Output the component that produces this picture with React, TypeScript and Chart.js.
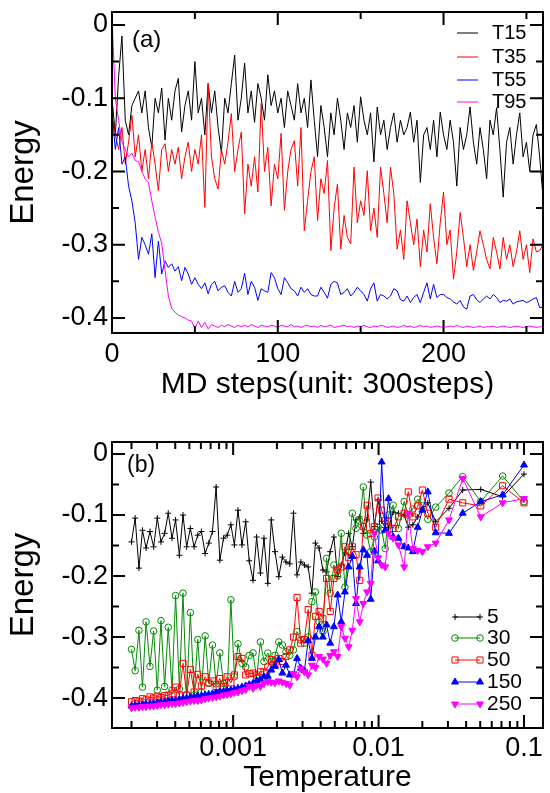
import React, { useEffect, useRef } from "react";
import { Chart, registerables } from "chart.js";

Chart.register(...registerables);

const FONT = "'Liberation Sans', Arial, Helvetica, sans-serif";
Chart.defaults.font.family = FONT;
Chart.defaults.color = "#000";

// ---------------- Panel (a): energy vs MD steps ----------------
const MD_STEP = 2; // one sample every 2 units
const T15 = [
  -0.10, -0.15, -0.07, -0.015, -0.13, -0.15, -0.11, -0.10, -0.09, -0.12,
  -0.09, -0.14, -0.167, -0.10, -0.12, -0.086, -0.157, -0.10, -0.13, -0.09,
  -0.073, -0.146, -0.11, -0.09, -0.13, -0.05, -0.12, -0.10, -0.15, -0.08,
  -0.12, -0.09, -0.14, -0.175, -0.10, -0.12, -0.08, -0.041, -0.13, -0.10,
  -0.052, -0.12, -0.09, -0.133, -0.08, -0.10, -0.13, -0.068, -0.11, -0.09,
  -0.12, -0.10, -0.14, -0.09, -0.11, -0.13, -0.08, -0.12, -0.10, -0.14,
  -0.075, -0.13, -0.18, -0.11, -0.14, -0.18, -0.12, -0.15, -0.10, -0.13,
  -0.17, -0.12, -0.14, -0.11, -0.16, -0.098, -0.13, -0.15, -0.12, -0.187,
  -0.112, -0.15, -0.13, -0.17, -0.14, -0.12, -0.16, -0.13, -0.15, -0.14,
  -0.119, -0.16, -0.13, -0.215, -0.15, -0.14, -0.17, -0.13, -0.18, -0.119,
  -0.15, -0.17, -0.13, -0.16, -0.22, -0.14, -0.17, -0.15, -0.112, -0.16,
  -0.19, -0.14, -0.17, -0.21, -0.13, -0.15, -0.113, -0.17, -0.235, -0.16,
  -0.14, -0.19, -0.15, -0.12, -0.18, -0.16, -0.20, -0.15, -0.136, -0.18,
  -0.235,
];
const T35 = [
  -0.12, -0.15, -0.17, -0.14, -0.19, -0.16, -0.123, -0.18, -0.15, -0.20,
  -0.17, -0.21, -0.16, -0.19, -0.226, -0.17, -0.162, -0.20, -0.17, -0.19,
  -0.167, -0.21, -0.18, -0.16, -0.20, -0.17, -0.19, -0.15, -0.249, -0.08,
  -0.18, -0.21, -0.224, -0.17, -0.19, -0.16, -0.121, -0.20, -0.17, -0.146,
  -0.258, -0.19, -0.22, -0.18, -0.228, -0.107, -0.20, -0.167, -0.247, -0.19,
  -0.21, -0.148, -0.253, -0.20, -0.17, -0.158, -0.22, -0.14, -0.281, -0.24,
  -0.20, -0.18, -0.267, -0.21, -0.23, -0.185, -0.308, -0.25, -0.217, -0.306,
  -0.26, -0.29, -0.299, -0.194, -0.27, -0.24, -0.26, -0.199, -0.281, -0.25,
  -0.29, -0.194, -0.23, -0.27, -0.194, -0.23, -0.306, -0.28, -0.32, -0.24,
  -0.27, -0.30, -0.265, -0.33, -0.28, -0.31, -0.244, -0.29, -0.326, -0.27,
  -0.228, -0.30, -0.28, -0.347, -0.31, -0.256, -0.29, -0.33, -0.30, -0.335,
  -0.31, -0.281, -0.30, -0.32, -0.333, -0.29, -0.31, -0.333, -0.29, -0.32,
  -0.30, -0.33, -0.31, -0.281, -0.32, -0.30, -0.338, -0.292, -0.31, -0.308,
  -0.30,
];
const T55 = [
  -0.116, -0.17, -0.14, -0.19, -0.18, -0.22, -0.24, -0.27, -0.32, -0.29,
  -0.30, -0.313, -0.285, -0.345, -0.295, -0.34, -0.322, -0.331, -0.326, -0.336,
  -0.33, -0.349, -0.331, -0.34, -0.354, -0.345, -0.354, -0.36, -0.352, -0.367,
  -0.354, -0.35, -0.363, -0.358, -0.356, -0.365, -0.37, -0.35, -0.365, -0.36,
  -0.339, -0.368, -0.35, -0.358, -0.376, -0.36, -0.363, -0.365, -0.338, -0.345,
  -0.36, -0.368, -0.345, -0.352, -0.36, -0.363, -0.37, -0.358, -0.365, -0.36,
  -0.368, -0.37, -0.37, -0.358, -0.365, -0.373, -0.354, -0.35, -0.352, -0.368,
  -0.365, -0.36, -0.37, -0.365, -0.358, -0.363, -0.368, -0.377, -0.36, -0.352,
  -0.377, -0.368, -0.37, -0.374, -0.37, -0.36, -0.363, -0.375, -0.377, -0.37,
  -0.379, -0.372, -0.368, -0.379, -0.365, -0.352, -0.374, -0.354, -0.372, -0.368,
  -0.368, -0.372, -0.374, -0.378, -0.381, -0.376, -0.385, -0.388, -0.37, -0.368,
  -0.375, -0.379, -0.374, -0.37, -0.374, -0.368, -0.372, -0.379, -0.376, -0.377,
  -0.374, -0.381, -0.378, -0.377, -0.376, -0.379, -0.377, -0.374, -0.372, -0.386,
  -0.385,
];
const T95 = [
  0.01, -0.10, -0.13, -0.16, -0.17, -0.18, -0.175, -0.185, -0.187, -0.20,
  -0.21, -0.215, -0.24, -0.262, -0.283, -0.298, -0.335, -0.37, -0.387, -0.392,
  -0.396, -0.398, -0.40, -0.403, -0.404, -0.415, -0.404, -0.413, -0.406, -0.415,
  -0.409, -0.411, -0.413, -0.41, -0.412, -0.409, -0.411, -0.413, -0.41, -0.412,
  -0.41, -0.412, -0.409, -0.411, -0.413, -0.41, -0.411, -0.412, -0.41, -0.411,
  -0.413, -0.41, -0.411, -0.412, -0.409, -0.412, -0.411, -0.413, -0.411, -0.41,
  -0.412, -0.411, -0.413, -0.41, -0.412, -0.411, -0.41, -0.413, -0.412, -0.411,
  -0.41, -0.412, -0.411, -0.413, -0.411, -0.412, -0.41, -0.412, -0.413, -0.411,
  -0.412, -0.41, -0.411, -0.413, -0.412, -0.411, -0.413, -0.412, -0.41, -0.412,
  -0.411, -0.413, -0.412, -0.41, -0.412, -0.411, -0.413, -0.412, -0.411, -0.412,
  -0.413, -0.412, -0.411, -0.412, -0.41, -0.412, -0.413, -0.411, -0.412, -0.413,
  -0.412, -0.411, -0.413, -0.412, -0.412, -0.411, -0.413, -0.412, -0.411, -0.412,
  -0.413, -0.412, -0.411, -0.412, -0.413, -0.412, -0.411, -0.412, -0.413, -0.412,
  -0.412,
];
const A_LABELS = ["T15", "T35", "T55", "T95"];
const A_COLORS = ["#000000", "#ff0000", "#0000ff", "#ff00ff"];
const A_X_TICKS = [0, 100, 200];
const A_X_MINOR = [50, 150, 250];
const Y_TICKS = [-0.4, -0.3, -0.2, -0.1, 0];
const Y_MINOR = [-0.35, -0.25, -0.15, -0.05];

// ---------------- Panel (b): energy vs temperature ----------------
const TEMPS = [
  0.0002, 0.000212, 0.000225, 0.000238, 0.000252, 0.000268, 0.000284, 0.000301, 0.000319, 0.000338,
  0.000358, 0.00038, 0.000402, 0.000427, 0.000452, 0.000479, 0.000508, 0.000539, 0.000571, 0.000605,
  0.000642, 0.00068, 0.000721, 0.000764, 0.00081, 0.000859, 0.00091, 0.000965, 0.00102, 0.00108,
  0.00115, 0.00122, 0.00129, 0.00137, 0.00145, 0.00154, 0.00163, 0.00173, 0.00183, 0.00194,
  0.00206, 0.00218, 0.00231, 0.00245, 0.0026, 0.00275, 0.00292, 0.00309, 0.00328, 0.00348,
  0.00368, 0.0039, 0.00414, 0.00439, 0.00465, 0.00493, 0.00523, 0.00554, 0.00587, 0.00623,
  0.0066, 0.007, 0.00742, 0.00786, 0.00833, 0.00883, 0.00936, 0.00992,
  0.0105, 0.0111, 0.0117, 0.0126, 0.0137, 0.015, 0.016, 0.0172, 0.0186, 0.02,
  0.0218, 0.0247, 0.0305, 0.0379, 0.0504, 0.0713, 0.1,
];
const E5 = [
  -0.144, -0.105, -0.187, -0.125, -0.154, -0.127, -0.152, -0.105, -0.144, -0.13,
  -0.097, -0.138, -0.108, -0.166, -0.1, -0.152, -0.122, -0.152, -0.133, -0.127,
  -0.163, -0.146, -0.127, -0.054, -0.174, -0.138, -0.133, -0.116, -0.149, -0.092,
  -0.149, -0.111, -0.175, -0.207, -0.136, -0.195, -0.138, -0.212, -0.108, -0.16,
  -0.201, -0.169, -0.177, -0.18, -0.097, -0.198, -0.177, -0.182, -0.185, -0.228,
  -0.146, -0.154, -0.19, -0.193, -0.16, -0.136, -0.201, -0.182, -0.162, -0.13,
  -0.152, -0.108, -0.103, -0.13, -0.108, -0.046, -0.119, -0.075,
  -0.11, -0.12, -0.121, -0.095, -0.097, -0.1, -0.12, -0.116, -0.103, -0.09,
  -0.08, -0.111, -0.089, -0.059, -0.058, -0.07, -0.033,
];
const E30 = [
  -0.32, -0.355, -0.289, -0.382, -0.275, -0.348, -0.29, -0.387, -0.273, -0.381,
  -0.284, -0.387, -0.232, -0.385, -0.228, -0.395, -0.26, -0.395, -0.304, -0.39,
  -0.298, -0.376, -0.313, -0.377, -0.326, -0.376, -0.39, -0.239, -0.365, -0.311,
  -0.343, -0.349, -0.33, -0.326, -0.367, -0.308, -0.34, -0.326, -0.34, -0.33,
  -0.308, -0.313, -0.324, -0.33, -0.321, -0.291, -0.305, -0.31, -0.3, -0.242,
  -0.226, -0.275, -0.291, -0.171, -0.228, -0.182, -0.2, -0.13, -0.218, -0.16,
  -0.097, -0.122, -0.11, -0.054, -0.133, -0.16, -0.136, -0.12,
  -0.125, -0.155, -0.1, -0.084, -0.122, -0.078, -0.1, -0.09, -0.074, -0.085,
  -0.107, -0.087, -0.064, -0.037, -0.078, -0.036, -0.078,
];
const E50 = [
  -0.406, -0.404, -0.405, -0.401, -0.403, -0.398, -0.4, -0.397, -0.399, -0.396,
  -0.395, -0.393, -0.382, -0.395, -0.343, -0.395, -0.353, -0.39, -0.361, -0.38,
  -0.365, -0.375, -0.372, -0.381, -0.368, -0.381, -0.365, -0.375, -0.362, -0.332,
  -0.335, -0.362, -0.36, -0.359, -0.362, -0.357, -0.357, -0.349, -0.337, -0.345,
  -0.335, -0.34, -0.332, -0.321, -0.3, -0.235, -0.31, -0.304, -0.255, -0.33,
  -0.266, -0.258, -0.27, -0.204, -0.258, -0.204, -0.19, -0.185, -0.152, -0.17,
  -0.152, -0.165, -0.207, -0.119, -0.084, -0.13, -0.119, -0.072,
  -0.092, -0.109, -0.11, -0.122, -0.103, -0.097, -0.062, -0.103, -0.085, -0.059,
  -0.097, -0.12, -0.074, -0.08, -0.085, -0.052, -0.08,
];
const E150 = [
  -0.413, -0.412, -0.412, -0.411, -0.41, -0.41, -0.409, -0.408, -0.407, -0.406,
  -0.405, -0.404, -0.404, -0.402, -0.401, -0.4, -0.399, -0.398, -0.397, -0.396,
  -0.395, -0.394, -0.393, -0.391, -0.39, -0.389, -0.388, -0.387, -0.386, -0.384,
  -0.382, -0.38, -0.378, -0.376, -0.372, -0.37, -0.365, -0.364, -0.354, -0.348,
  -0.337, -0.359, -0.346, -0.362, -0.362, -0.335, -0.351, -0.355, -0.306, -0.335,
  -0.3, -0.283, -0.3, -0.28, -0.31, -0.283, -0.231, -0.275, -0.226, -0.185,
  -0.168, -0.245, -0.185, -0.157, -0.166, -0.238, -0.159, -0.175,
  -0.013, -0.125, -0.073, -0.136, -0.138, -0.152, -0.154, -0.16, -0.12, -0.092,
  -0.062, -0.129, -0.13, -0.097, -0.078, -0.067, -0.018,
];
const E250 = [
  -0.416, -0.415, -0.415, -0.414, -0.414, -0.413, -0.413, -0.412, -0.411, -0.411,
  -0.41, -0.409, -0.409, -0.408, -0.407, -0.406, -0.405, -0.404, -0.404, -0.403,
  -0.401, -0.4, -0.399, -0.398, -0.397, -0.395, -0.394, -0.393, -0.391, -0.39,
  -0.388, -0.386, -0.381, -0.384, -0.379, -0.381, -0.376, -0.373, -0.374, -0.375,
  -0.372, -0.374, -0.376, -0.379, -0.36, -0.365, -0.351, -0.357, -0.362, -0.346,
  -0.35, -0.332, -0.336, -0.343, -0.33, -0.324, -0.332, -0.283, -0.302, -0.316,
  -0.289, -0.237, -0.275, -0.245, -0.226, -0.212, -0.13, -0.17,
  -0.182, -0.185, -0.13, -0.138, -0.149, -0.185, -0.097, -0.155, -0.158, -0.16,
  -0.152, -0.146, -0.108, -0.04, -0.103, -0.08, -0.073,
];
const B_LABELS = ["5", "30", "50", "150", "250"];
const B_COLORS = ["#000000", "#008c00", "#ff0000", "#0000ff", "#ff00ff"];
const B_X_TICKS = [0.001, 0.01, 0.1];
const B_X_TICK_LABELS = ["0.001", "0.01", "0.1"];
const B_DECADES = [0.0001, 0.001, 0.01, 0.1];

// ---------------- helpers ----------------
const stepSeries = (ys: number[]) => ys.map((y, i) => ({ x: i * MD_STEP, y }));
const tempSeries = (ys: number[]) => ys.map((y, i) => ({ x: TEMPS[i], y }));
const fmtY = (v: any) => (Math.abs(Number(v)) < 1e-9 ? "0" : Number(v).toFixed(1));

function drawMarker(ctx: CanvasRenderingContext2D, ds: any, x: number, y: number) {
  const style = ds.pointStyle;
  const r = ds.pointRadius;
  const color = ds.borderColor;
  const fill = ds.pointBackgroundColor;
  ctx.save();
  ctx.strokeStyle = color;
  ctx.fillStyle = fill;
  ctx.lineWidth = 1;
  ctx.beginPath();
  if (style === "cross") {
    ctx.moveTo(x - r, y);
    ctx.lineTo(x + r, y);
    ctx.moveTo(x, y - r);
    ctx.lineTo(x, y + r);
    ctx.stroke();
  } else if (style === "circle") {
    ctx.arc(x, y, r, 0, Math.PI * 2);
    ctx.fill();
    ctx.stroke();
  } else if (style === "rect") {
    const s = r * Math.SQRT1_2;
    ctx.rect(x - s, y - s, 2 * s, 2 * s);
    ctx.fill();
    ctx.stroke();
  } else if (style === "triangle") {
    let rad = ((ds.pointRotation || 0) * Math.PI) / 180;
    ctx.moveTo(x + Math.sin(rad) * r, y - Math.cos(rad) * r);
    rad += (2 * Math.PI) / 3;
    ctx.lineTo(x + Math.sin(rad) * r, y - Math.cos(rad) * r);
    rad += (2 * Math.PI) / 3;
    ctx.lineTo(x + Math.sin(rad) * r, y - Math.cos(rad) * r);
    ctx.closePath();
    ctx.fill();
    ctx.stroke();
  }
  ctx.restore();
}

const framePlugin = {
  id: "frame",
  afterDatasetsDraw(chart: any, _args: any, opts: any) {
    const { ctx, chartArea } = chart;
    const { left, right, top, bottom } = chartArea;
    const xs = chart.scales.x;
    const ys = chart.scales.y;
    ctx.save();
    ctx.strokeStyle = "#000";
    ctx.lineWidth = 2;
    ctx.beginPath();
    const xt = (vals: number[], len: number) => {
      vals.forEach((v) => {
        const p = xs.getPixelForValue(v);
        if (p < left - 0.5 || p > right + 0.5) return;
        ctx.moveTo(p, bottom);
        ctx.lineTo(p, bottom - len);
        ctx.moveTo(p, top);
        ctx.lineTo(p, top + len);
      });
    };
    const yt = (vals: number[], len: number) => {
      vals.forEach((v) => {
        const p = ys.getPixelForValue(v);
        if (p < top - 0.5 || p > bottom + 0.5) return;
        ctx.moveTo(left, p);
        ctx.lineTo(left + len, p);
        ctx.moveTo(right, p);
        ctx.lineTo(right - len, p);
      });
    };
    xt(opts.xMajor, opts.majorLen);
    xt(opts.xMinor, opts.minorLen);
    yt(opts.yMajor, opts.majorLen);
    yt(opts.yMinor, opts.minorLen);
    ctx.stroke();
    ctx.strokeRect(left, top, right - left, bottom - top);
    ctx.restore();
  },
};

const decorPlugin = {
  id: "decor",
  afterDraw(chart: any, _args: any, opts: any) {
    const { ctx } = chart;
    ctx.save();
    ctx.fillStyle = "#000";
    ctx.textAlign = "left";
    ctx.textBaseline = "middle";
    ctx.font = `${opts.tag.size}px ${FONT}`;
    ctx.fillText(opts.tag.text, opts.tag.x, opts.tag.y);
    const lg = opts.legend;
    ctx.font = `${lg.size}px ${FONT}`;
    chart.data.datasets.forEach((ds: any, i: number) => {
      const y = lg.rows[i];
      ctx.strokeStyle = ds.borderColor;
      ctx.lineWidth = 1;
      ctx.beginPath();
      ctx.moveTo(lg.x0, y);
      ctx.lineTo(lg.x1, y);
      ctx.stroke();
      if (lg.markers) {
        drawMarker(ctx, ds, lg.x0, y);
        drawMarker(ctx, ds, lg.x1, y);
      }
      ctx.fillStyle = "#000";
      ctx.fillText(ds.label, lg.tx, y);
    });
    ctx.restore();
  },
};

function yAxis(min: number, max: number) {
  return {
    type: "linear",
    min,
    max,
    grid: { display: false, drawTicks: false },
    border: { display: false },
    ticks: { font: { size: 27, family: FONT }, color: "#000", padding: 4, callback: fmtY },
    title: {
      display: true,
      text: "Energy",
      color: "#000",
      font: { size: 33, family: FONT, lineHeight: 1 },
      padding: { top: 7, bottom: 0 },
    },
    afterBuildTicks: (s: any) => {
      s.ticks = Y_TICKS.map((v) => ({ value: v }));
    },
    afterFit: (s: any) => {
      s.width = 112;
      s.paddingTop = 0;
      s.paddingBottom = 0;
    },
  };
}

function makeTop(): any {
  const series = [T15, T35, T55, T95];
  return {
    type: "line",
    data: {
      datasets: series.map((ys, i) => ({
        label: A_LABELS[i],
        data: stepSeries(ys),
        borderColor: A_COLORS[i],
        backgroundColor: A_COLORS[i],
        borderWidth: 1,
        pointRadius: 0,
        fill: false,
        tension: 0,
        order: series.length - 1 - i,
      })),
    },
    options: {
      responsive: false,
      animation: false,
      events: [],
      layout: { padding: { left: 0, right: 7, top: 12, bottom: 0 }, autoPadding: false },
      plugins: {
        legend: { display: false },
        tooltip: { enabled: false },
        frame: { xMajor: A_X_TICKS, xMinor: A_X_MINOR, yMajor: Y_TICKS, yMinor: Y_MINOR, majorLen: 13, minorLen: 7 },
        decor: {
          tag: { text: "(a)", x: 132, y: 40, size: 24 },
          legend: { x0: 457, x1: 478, tx: 492, rows: [33, 57, 80, 102], size: 20, markers: false },
        },
      },
      scales: {
        x: {
          type: "linear",
          min: 0,
          max: 260,
          grid: { display: false, drawTicks: false },
          border: { display: false },
          ticks: {
            font: { size: 27, family: FONT },
            color: "#000",
            padding: 5,
            maxRotation: 0,
            minRotation: 0,
            autoSkip: false,
            callback: (v: any) => String(v),
          },
          title: {
            display: true,
            text: "MD steps(unit: 300steps)",
            color: "#000",
            font: { size: 30, family: FONT, lineHeight: 1 },
            padding: 0,
          },
          afterBuildTicks: (s: any) => {
            s.ticks = A_X_TICKS.map((v) => ({ value: v }));
          },
          afterFit: (s: any) => {
            s.height = 67;
            s.paddingLeft = 0;
            s.paddingRight = 0;
          },
        },
        y: yAxis(-0.4205, 0.0177),
      },
    },
    plugins: [framePlugin, decorPlugin],
  };
}

function makeBottom(): any {
  const series = [E5, E30, E50, E150, E250];
  const styles = [
    { pointStyle: "cross", pointRadius: 3, pointBackgroundColor: "#000000", pointRotation: 0 },
    { pointStyle: "circle", pointRadius: 3.3, pointBackgroundColor: "rgba(0,0,0,0)", pointRotation: 0 },
    { pointStyle: "rect", pointRadius: 4.3, pointBackgroundColor: "rgba(0,0,0,0)", pointRotation: 0 },
    { pointStyle: "triangle", pointRadius: 4, pointBackgroundColor: "#0000ff", pointRotation: 0 },
    { pointStyle: "triangle", pointRadius: 4, pointBackgroundColor: "#ff00ff", pointRotation: 180 },
  ];
  const minor: number[] = [];
  B_DECADES.forEach((d) => {
    for (let m = 2; m <= 9; m++) minor.push(m * d);
  });
  return {
    type: "line",
    data: {
      datasets: series.map((ys, i) => ({
        label: B_LABELS[i],
        data: tempSeries(ys),
        borderColor: B_COLORS[i],
        backgroundColor: B_COLORS[i],
        pointBorderColor: B_COLORS[i],
        borderWidth: 1,
        pointBorderWidth: 1,
        ...styles[i],
        fill: false,
        tension: 0,
        order: series.length - 1 - i,
      })),
    },
    options: {
      responsive: false,
      animation: false,
      events: [],
      layout: { padding: { left: 0, right: 7, top: 42, bottom: 0 }, autoPadding: false },
      plugins: {
        legend: { display: false },
        tooltip: { enabled: false },
        frame: { xMajor: B_X_TICKS, xMinor: minor, yMajor: Y_TICKS, yMinor: Y_MINOR, majorLen: 13, minorLen: 7 },
        decor: {
          tag: { text: "(b)", x: 127, y: 66, size: 23 },
          legend: { x0: 455, x1: 480, tx: 487, rows: [217, 238, 260, 282, 304], size: 21, markers: true },
        },
      },
      scales: {
        x: {
          type: "logarithmic",
          min: 0.0001469,
          max: 0.1351,
          grid: { display: false, drawTicks: false },
          border: { display: false },
          ticks: {
            font: { size: 27, family: FONT },
            color: "#000",
            padding: 4,
            maxRotation: 0,
            minRotation: 0,
            autoSkip: false,
            callback: (v: any) => {
              const idx = B_X_TICKS.findIndex((t) => Math.abs(t - Number(v)) < t * 1e-6);
              return idx >= 0 ? B_X_TICK_LABELS[idx] : "";
            },
          },
          title: {
            display: true,
            text: "Temperature",
            color: "#000",
            font: { size: 30, family: FONT, lineHeight: 1 },
            padding: 0,
          },
          afterBuildTicks: (s: any) => {
            s.ticks = B_X_TICKS.map((v) => ({ value: v }));
          },
          afterFit: (s: any) => {
            s.height = 65;
            s.paddingLeft = 0;
            s.paddingRight = 0;
          },
        },
        y: yAxis(-0.449, 0.0197),
      },
    },
    plugins: [framePlugin, decorPlugin],
  };
}

function ChartCanvas({ make, width, height }: { make: () => any; width: number; height: number }) {
  const ref = useRef<HTMLCanvasElement | null>(null);
  useEffect(() => {
    if (!ref.current) return;
    const chart = new Chart(ref.current, make());
    return () => chart.destroy();
  }, [make]);
  return <canvas ref={ref} width={width} height={height} style={{ display: "block", width, height }} />;
}

export default function App() {
  return (
    <div
      style={{
        position: "absolute",
        left: 0,
        top: 0,
        width: 550,
        height: 793,
        overflow: "hidden",
        background: "#ffffff",
      }}
    >
      <ChartCanvas make={makeTop} width={550} height={400} />
      <ChartCanvas make={makeBottom} width={550} height={393} />
    </div>
  );
}
